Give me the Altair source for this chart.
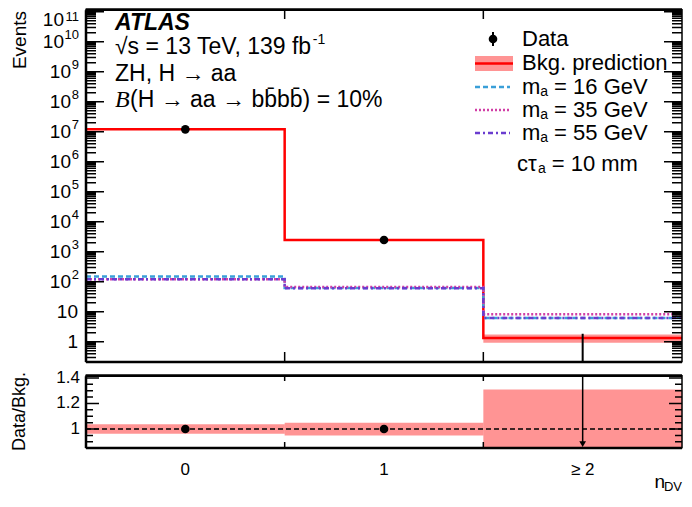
import math
import altair as alt
import pandas as pd

FONT = "Liberation Sans"

# ---------------- data ----------------
bin_labels = ["0", "1", "≥ 2"]
bin_centers = [0, 1, 2]
bin_edges = [-0.5, 0.5, 1.5, 2.5]
bkg = [1.2e7, 2450, 1.33]
bkg_rel_unc = [0.037, 0.05, 0.31]
data_obs = [1.2e7, 2450, 0]
data_err = [3460, 49, 1.84]
sig_m16 = [150, 62, 6.2]
sig_m35 = [120, 66, 8.3]
sig_m55 = [120, 60, 6.2]
ratio_val = [1.0, 1.0, 0.0]
ratio_err = [0.0003, 0.02, 0.0]

y_log_exponents = list(range(0, 12))
ratio_major = [1.0, 1.2, 1.4]
ratio_minor = [0.9, 0.95, 1.05, 1.1, 1.15, 1.25, 1.3, 1.35]

# ---------------- layout ----------------
W = 596
H = 353
HR = 73
X_DOM = [-0.5, 2.5]
Y_DOM = [0.2105, 1.23e11]
R_DOM = [0.851, 1.4235]

xs = alt.Scale(domain=X_DOM, nice=False, zero=False)
ys = alt.Scale(type="log", domain=Y_DOM, nice=False)
rs = alt.Scale(domain=R_DOM, nice=False, zero=False)

RED = "#ff0000"
C16, C35, C55 = "#3a9fd8", "#d13fa6", "#6a3ccf"
D16, D35, D55 = [5, 3], [2, 2], [5, 3, 2, 3]

one = pd.DataFrame({"k": [0]})


def T(text, x, y, size=22, align="left", **kw):
    return alt.Chart(one).mark_text(
        text=text, align=align, baseline="middle", font=FONT, fontSize=size,
        color="black", **kw
    ).encode(x=alt.value(x), y=alt.value(y))


def X(f):
    return alt.X(f, type="quantitative", scale=xs, axis=None)


def step_df(vals):
    return pd.DataFrame({"x": bin_edges, "y": list(vals) + [vals[-1]]})


bins_df = pd.DataFrame({
    "lab": bin_labels, "c": bin_centers,
    "lo": bin_edges[:-1], "hi": bin_edges[1:],
    "bkg": bkg, "u": bkg_rel_unc,
    "d": data_obs, "de": data_err,
    "r": ratio_val, "re": ratio_err,
})
bins_df["blo"] = bins_df["bkg"] * (1 - bins_df["u"])
bins_df["bhi"] = bins_df["bkg"] * (1 + bins_df["u"])
bins_df["dlo"] = bins_df["d"] - bins_df["de"]
bins_df["dhi"] = bins_df["d"] + bins_df["de"]
bins_df["rlo"] = 1 - bins_df["u"]
bins_df["rhi"] = 1 + bins_df["u"]
bins_df["rdlo"] = bins_df["r"] - bins_df["re"]
bins_df["rdhi"] = bins_df["r"] + bins_df["re"]
nz = bins_df[bins_df["d"] > 0]
zb = bins_df[bins_df["d"] <= 0]

major_vals = [10.0 ** k for k in y_log_exponents]
minor_vals = [m * 10.0 ** k for k in range(-1, 12) for m in range(2, 10)
              if Y_DOM[0] < m * 10.0 ** k < Y_DOM[1]]
edge_vals = bin_edges[1:-1]

# ---------------- inward tick combs: one continuous path around each panel ----------------
XPX = (X_DOM[1] - X_DOM[0]) / W


def comb_df(maj, mino, lmaj, lmin, log, dom, h, xlen):
    bot, top = dom
    if log:
        dec = (math.log10(top) - math.log10(bot)) / h * xlen
        xt_top, xt_bot = top / 10 ** dec, bot * 10 ** dec
    else:
        per = (top - bot) / h * xlen
        xt_top, xt_bot = top - per, bot + per
    ticks = sorted([(v, lmaj) for v in maj] + [(v, lmin) for v in mino])
    x0, x1 = X_DOM
    pts = [(x1, top)]
    for e in reversed(edge_vals):
        pts += [(e, top), (e, xt_top), (e, top)]
    pts.append((x0, top))
    for v, ln in reversed(ticks):
        pts += [(x0, v), (x0 + ln * XPX, v), (x0, v)]
    pts.append((x0, bot))
    for e in edge_vals:
        pts += [(e, bot), (e, xt_bot), (e, bot)]
    pts.append((x1, bot))
    for v, ln in ticks:
        pts += [(x1, v), (x1 - ln * XPX, v), (x1, v)]
    pts.append((x1, top))
    return pd.DataFrame({"o": list(range(len(pts))), "x": [p[0] for p in pts],
                         "y": [p[1] for p in pts]})


def comb(df, scale):
    return alt.Chart(df).mark_line(color="black", strokeWidth=1.5, strokeJoin="bevel").encode(
        x=X("x"), y=alt.Y("y:Q", scale=scale, axis=None), order="o:Q")


def frame(h):
    top = alt.Chart(one).mark_rule(color="black", strokeWidth=2).encode(
        x=alt.value(0), x2=alt.value(W), y=alt.value(1))
    bot = alt.Chart(one).mark_rule(color="black", strokeWidth=2.5).encode(
        x=alt.value(0), x2=alt.value(W), y=alt.value(h))
    left = alt.Chart(one).mark_rule(color="black", strokeWidth=2.5).encode(
        x=alt.value(0), y=alt.value(1.3), y2=alt.value(h))
    return [top, bot, left]


# ---------------- main panel ----------------
band = alt.Chart(bins_df).mark_rect(fill=RED, opacity=0.42, clip=True).encode(
    x=X("lo"), x2="hi",
    y=alt.Y("blo:Q", scale=ys, axis=None), y2="bhi")


def step_line(vals, color, dash=None, width=2.5):
    kw = dict(interpolate="step-after", color=color, strokeWidth=width, clip=True)
    if dash:
        kw["strokeDash"] = dash
    return alt.Chart(step_df(vals)).mark_line(**kw).encode(
        x=X("x"), y=alt.Y("y:Q", scale=ys, axis=None))


bkg_line = step_line(bkg, RED, None, 2.5)
s16 = step_line(sig_m16, C16, D16)
s35 = step_line(sig_m35, C35, D35)
s55 = step_line(sig_m55, C55, D55)

d_err = alt.Chart(nz).mark_rule(color="black", strokeWidth=2).encode(
    x=X("c"), y=alt.Y("dlo:Q", scale=ys, axis=None), y2="dhi")
d_pts = alt.Chart(nz).mark_point(filled=True, color="black", size=75, opacity=1).encode(
    x=X("c"), y=alt.Y("d:Q", scale=ys, axis=None))
d_zero = alt.Chart(zb).mark_rule(color="black", strokeWidth=2).encode(
    x=X("c"), y=alt.Y("dhi:Q", scale=ys, axis=None), y2=alt.value(H))

major_df = pd.DataFrame({"v": major_vals, "k": y_log_exponents})

# y tick labels with superscripts
LAB_FS, EXP_FS = 19, 13
plain = major_df[major_df["k"] <= 1].copy()
plain["t"] = plain["k"].map(lambda k: "1" if k == 0 else "10")
lab_plain = alt.Chart(plain).mark_text(align="right", baseline="middle", font=FONT,
                                       fontSize=LAB_FS).encode(
    y=alt.Y("v:Q", scale=ys, axis=None), x=alt.value(-8), text="t:N")

lab_layers = []
for sel, ew, dyb, dye in [((2, 9), 8, 0, -7), ((10, 10), 15, 0, -7), ((11, 11), 15, 8, 5)]:
    sub = major_df[(major_df["k"] >= sel[0]) & (major_df["k"] <= sel[1])].copy()
    sub["e"] = sub["k"].astype(str)
    lab_layers.append(alt.Chart(sub).mark_text(
        text="10", align="right", baseline="middle", font=FONT, fontSize=LAB_FS, dy=dyb
    ).encode(y=alt.Y("v:Q", scale=ys, axis=None), x=alt.value(-7 - ew)))
    lab_layers.append(alt.Chart(sub).mark_text(
        align="right", baseline="middle", font=FONT, fontSize=EXP_FS, dy=dye
    ).encode(y=alt.Y("v:Q", scale=ys, axis=None), x=alt.value(-7), text="e:N"))

# texts
FS = 23
texts = [
    T("ATLAS", 29, 14, FS, fontWeight="bold", fontStyle="italic"),
    T("√s = 13 TeV, 139 fb", 29, 38, FS),
    T("-1", 29 + 8.6 * FS, 31, 14),
    T("ZH, H → aa", 29, 65, FS),
    alt.Chart(one).mark_text(text="B", align="left", baseline="middle", font="Liberation Serif",
                             fontSize=FS + 1, fontStyle="italic").encode(
        x=alt.value(29), y=alt.value(91)),
    T("(H → aa → bb\u0304bb\u0304) = 10%", 44, 91, FS),
    T("Events", -66, 2, 19, align="right", angle=270),
]

# legend
LX = 436
LFS = 22
leg = []
leg.append(alt.Chart(one).mark_point(filled=True, color="black", size=75, opacity=1).encode(
    x=alt.value(407), y=alt.value(30)))
leg.append(alt.Chart(one).mark_rule(color="black", strokeWidth=2).encode(
    x=alt.value(407), y=alt.value(23), y2=alt.value(37)))
leg.append(T("Data", LX, 30, LFS))
leg.append(alt.Chart(one).mark_rect(fill=RED, opacity=0.42).encode(
    x=alt.value(389), x2=alt.value(427), y=alt.value(47), y2=alt.value(62)))
leg.append(alt.Chart(one).mark_rule(color=RED, strokeWidth=2.5).encode(
    x=alt.value(389), x2=alt.value(427), y=alt.value(54.5)))
leg.append(T("Bkg. prediction", LX, 54, LFS))
for yy, col, dash, mass in [(78, C16, D16, "16"), (101, C35, D35, "35"), (124, C55, D55, "55")]:
    leg.append(alt.Chart(one).mark_rule(color=col, strokeWidth=2.5, strokeDash=dash).encode(
        x=alt.value(389), x2=alt.value(424), y=alt.value(yy)))
    leg.append(T("m", LX, yy, LFS))
    leg.append(T("a", LX + 0.833 * LFS, yy + 5, 14))
    leg.append(T("= %s GeV" % mass, LX + 0.833 * LFS + 0.556 * 14 + 6, yy, LFS))
leg.append(T("cτ", 431, 155, LFS))
leg.append(T("a", 431 + 0.95 * LFS, 160, 14))
leg.append(T("= 10 mm", 431 + 0.95 * LFS + 0.556 * 14 + 6, 155, LFS))

main = alt.layer(
    band, bkg_line, s16, s35, s55, d_err, d_pts, d_zero,
    comb(comb_df(major_vals, minor_vals, 18, 10, True, Y_DOM, H, 10), ys),
    *frame(H), lab_plain, *lab_layers, *texts, *leg,
).properties(width=W, height=H)

# ---------------- ratio panel ----------------
rband = alt.Chart(bins_df).mark_rect(fill=RED, opacity=0.42, clip=True).encode(
    x=X("lo"), x2="hi", y=alt.Y("rlo:Q", scale=rs, axis=None), y2="rhi")
unity = alt.Chart(pd.DataFrame({"v": [1.0]})).mark_rule(
    color="black", strokeWidth=1.5, strokeDash=[5, 3]).encode(
    y=alt.Y("v:Q", scale=rs, axis=None), x=alt.value(0), x2=alt.value(W))
r_err = alt.Chart(nz).mark_rule(color="black", strokeWidth=2).encode(
    x=X("c"), y=alt.Y("rdlo:Q", scale=rs, axis=None), y2="rdhi")
r_pts = alt.Chart(nz).mark_point(filled=True, color="black", size=75, opacity=1).encode(
    x=X("c"), y=alt.Y("r:Q", scale=rs, axis=None))
arrow_df = zb.assign(top=R_DOM[1], bot=R_DOM[0] + 0.03)
r_arrow = alt.Chart(arrow_df).mark_rule(color="black", strokeWidth=1.5, clip=True).encode(
    x=X("c"), y=alt.Y("top:Q", scale=rs, axis=None), y2="bot")
r_head = alt.Chart(arrow_df).mark_point(shape="triangle-down", filled=True, color="black",
                                        size=45, opacity=1).encode(
    x=X("c"), y=alt.Y("bot:Q", scale=rs, axis=None))

rmaj_df = pd.DataFrame({"v": ratio_major, "t": ["1", "1.2", "1.4"]})
r_lab = alt.Chart(rmaj_df).mark_text(align="right", baseline="middle", font=FONT,
                                     fontSize=17).encode(
    y=alt.Y("v:Q", scale=rs, axis=None), x=alt.value(-6), text="t:N")
x_lab = alt.Chart(bins_df).mark_text(baseline="middle", font=FONT, fontSize=17).encode(
    x=X("c"), y=alt.value(HR + 22), text="lab:N")

rtexts = [
    T("Data/Bkg.", -66, HR / 2, 18, align="center", angle=270),
    T("n", W - 17, HR + 34, 19, align="right"),
    T("DV", W, HR + 39, 13, align="right"),
]

ratio = alt.layer(
    rband, unity, r_err, r_pts, r_arrow, r_head,
    comb(comb_df(ratio_major, ratio_minor, 13, 7, False, R_DOM, HR, 6), rs),
    *frame(HR), r_lab, x_lab, *rtexts,
).properties(width=W, height=HR)

chart = alt.vconcat(main, ratio, spacing=13, bounds="flush").properties(
    padding={"left": 2, "top": 0, "right": 0, "bottom": 0}
).configure_view(stroke=None)

chart.save("out.html", embed_options={"renderer": "svg", "actions": False})
